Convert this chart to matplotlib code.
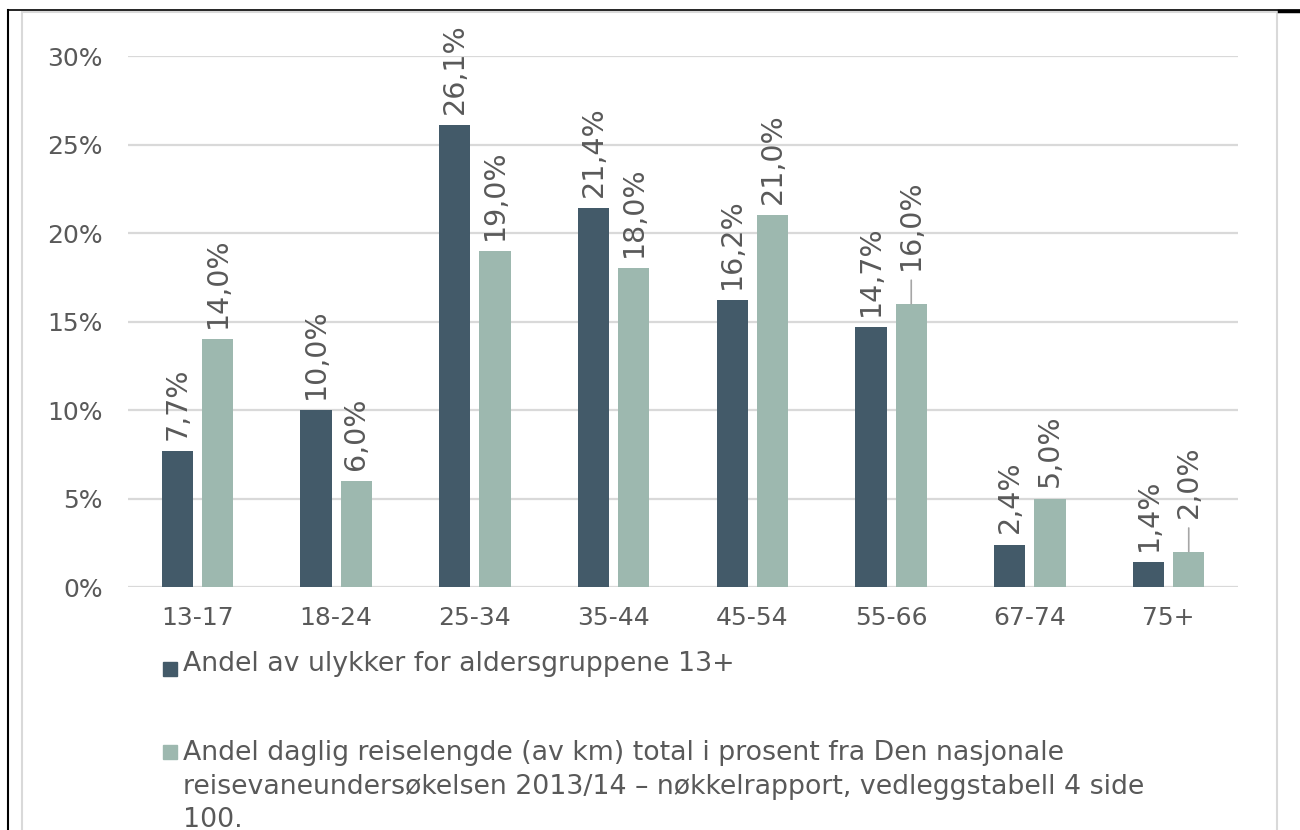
import numpy as np
import matplotlib.pyplot as plt
from matplotlib.lines import Line2D
from matplotlib.patches import Rectangle

# age groups and the two shares (in percent)
age_groups = ["13-17", "18-24", "25-34", "35-44", "45-54", "55-66", "67-74", "75+"]
ulykker = [7.7, 10.0, 26.1, 21.4, 16.2, 14.7, 2.4, 1.4]
reiselengde = [14.0, 6.0, 19.0, 18.0, 21.0, 16.0, 5.0, 2.0]
y_ticks = [0, 5, 10, 15, 20, 25, 30]

label_ulykker = "Andel av ulykker for aldersgruppene 13+"
label_reise = ("Andel daglig reiselengde (av km) total i prosent fra Den nasjonale\n"
               "reisevaneundersøkelsen 2013/14 – nøkkelrapport, vedleggstabell 4 side\n"
               "100.")

dark = "#435a69"
light = "#9db8af"
txt = "#595959"
grid = "#d9d9d9"

plt.rcParams['font.family'] = ['DejaVu Sans']

W, H = 1300, 830
fig = plt.figure(figsize=(W / 100, H / 100), dpi=100)
ax = fig.add_axes([128 / W, (H - 587) / H, (1238 - 128) / W, (587 - 56) / H])

x = np.arange(len(age_groups))
bw = 0.225
off = 0.145
b1 = ax.bar(x - off, ulykker, bw, color=dark, zorder=3)
b2 = ax.bar(x + off, reiselengde, bw, color=light, zorder=3)

ax.set_xlim(-0.5, len(age_groups) - 0.5)
ax.set_ylim(0, 30)
ax.set_yticks(y_ticks)
ax.set_yticklabels([f"{t}%" for t in y_ticks])
ax.set_xticks(x)
ax.set_xticklabels(age_groups)
ax.tick_params(axis='both', length=0, labelsize=18, colors=txt)
ax.tick_params(axis='y', pad=18)
ax.tick_params(axis='x', pad=14)
ax.yaxis.grid(True, color=grid, linewidth=1.6, zorder=0)
for s in ax.spines.values():
    s.set_visible(False)

def fmt(v):
    return f"{v:.1f}%".replace(".", ",")

# data labels, two of them pushed up with a leader line
moved = {(1, 5): True, (1, 7): True}
for si, (vals, bars) in enumerate([(ulykker, b1), (reiselengde, b2)]):
    for i, (v, b) in enumerate(zip(vals, bars)):
        cx = b.get_x() + b.get_width() / 2
        dy = 24 if moved.get((si, i)) else 8
        ax.annotate(fmt(v), (cx, v), xytext=(0, dy), textcoords='offset points',
                    rotation=90, ha='center', va='bottom', fontsize=20.5,
                    color=txt, annotation_clip=False)
        if moved.get((si, i)):
            ax.annotate("", (cx, v), xytext=(0, 17), textcoords='offset points',
                        arrowprops=dict(arrowstyle='-', color='#a6a6a6', lw=1.2,
                                        shrinkA=0, shrinkB=0),
                        annotation_clip=False)

# legend drawn by hand so the marker sits on the first text line
def fx(px):
    return px / W

def fy(py):
    return 1 - py / H

legend_rows = [(dark, label_ulykker, 662, 651), (light, label_reise, 745, 740)]
for col, lab, mtop, ttop in legend_rows:
    fig.patches.append(Rectangle((fx(163), fy(mtop + 14)), 14 / W, 14 / H,
                                 transform=fig.transFigure, color=col))
    fig.text(fx(183), fy(ttop), lab, ha='left', va='top', fontsize=19.3,
             color=txt, linespacing=1.38)

# chart frame and page border
fig.add_artist(Line2D([fx(22), fx(22)], [fy(12), 0], color=grid, lw=1.5))
fig.add_artist(Line2D([fx(22), fx(1277)], [fy(12), fy(12)], color=grid, lw=1.5))
fig.add_artist(Line2D([fx(1277), fx(1277)], [fy(12), 0], color=grid, lw=1.5))
fig.add_artist(Line2D([fx(8), fx(8)], [fy(10), 0], color='black', lw=1.5))
fig.add_artist(Line2D([fx(8), 1], [fy(10), fy(10)], color='black', lw=1.2))
fig.add_artist(Line2D([fx(1279), 1], [fy(11), fy(11)], color='black', lw=2.5))

fig.savefig("out.png", dpi=100)
